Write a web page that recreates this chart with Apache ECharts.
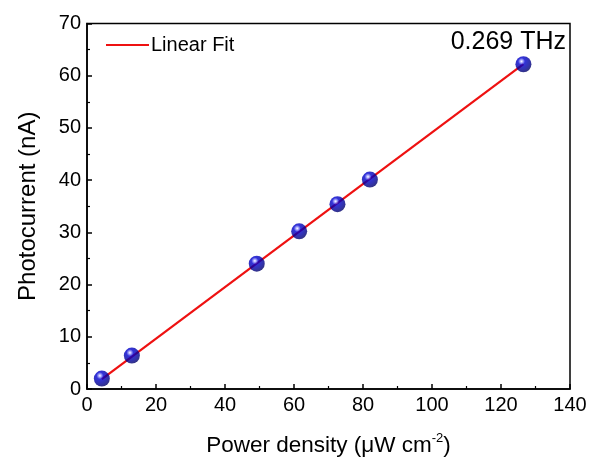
<!DOCTYPE html>
<html><head><meta charset="utf-8">
<script src="https://cdn.jsdelivr.net/npm/echarts@6/dist/echarts.min.js"></script>
<style>html,body{margin:0;padding:0;background:#fff}#c{width:590px;height:462px}</style>
</head><body><div id="c"></div>
<script>
const powerDensity = [4.3, 13.0, 49.2, 61.5, 72.6, 82.0, 126.5];
const photocurrent = [2.0, 6.4, 24.0, 30.2, 35.4, 40.1, 62.2];
const fitX = [4.3, 126.5];
const fitY = [1.9, 62.2];
const xTicks = [0, 20, 40, 60, 80, 100, 120, 140];
const yTicks = [0, 10, 20, 30, 40, 50, 60, 70];

const font = 'Liberation Sans, Arial, sans-serif';
const chart = echarts.init(document.getElementById('c'));
const ball = {
  type: 'radial', x: 0.38, y: 0.32, r: 0.72,
  colorStops: [
    {offset: 0, color: '#ffffff'},
    {offset: 0.1, color: '#a8a8ff'},
    {offset: 0.3, color: '#0000d0'},
    {offset: 0.7, color: '#00009a'},
    {offset: 1, color: '#000060'}
  ]
};
chart.setOption({
  animation: false,
  backgroundColor: '#fff',
  grid: {left: 87, right: 20, top: 23.5, bottom: 72, show: true, borderColor: '#000', borderWidth: 1.5},
  legend: {
    data: ['Linear Fit'], left: 101, top: 30, icon: 'rect', itemWidth: 43, itemHeight: 2,
    itemGap: 4, textStyle: {fontFamily: font, fontSize: 20, color: '#000', padding: [0,0,0,-3]}
  },
  graphic: [{
    type: 'text', right: 24, top: 30,
    style: {text: '0.269 THz', fontFamily: font, fontSize: 25, fill: '#000'}
  }],
  xAxis: {
    type: 'value', min: xTicks[0], max: xTicks[xTicks.length-1], interval: 20,
    name: '{a|Power density (μW cm}{s|-2}{a|)}', nameLocation: 'middle', nameGap: 43,
    nameTextStyle: {rich: {
      a: {fontFamily: font, fontSize: 22.5, color: '#000'},
      s: {fontFamily: font, fontSize: 13, color: '#000', verticalAlign: 'top', padding: [0,0,14,0]}
    }},
    axisLine: {lineStyle: {color: '#000', width: 1.5}},
    axisTick: {inside: true, length: 5, lineStyle: {color: '#000', width: 1.5}},
    minorTick: {show: true, splitNumber: 2, length: 3, lineStyle: {color: '#000', width: 1.2}},
    splitLine: {show: false},
    axisLabel: {fontFamily: font, fontSize: 20, color: '#000', margin: 6}
  },
  yAxis: {
    type: 'value', min: yTicks[0], max: yTicks[yTicks.length-1], interval: 10,
    name: 'Photocurrent (nA)', nameLocation: 'middle', nameGap: 47,
    nameTextStyle: {fontFamily: font, fontSize: 24, color: '#000'},
    axisLine: {lineStyle: {color: '#000', width: 1.5}},
    axisTick: {inside: true, length: 5, lineStyle: {color: '#000', width: 1.5}},
    minorTick: {show: true, splitNumber: 2, length: 3, lineStyle: {color: '#000', width: 1.2}},
    splitLine: {show: false},
    axisLabel: {fontFamily: font, fontSize: 20, color: '#000', margin: 6}
  },
  series: [
    {
      name: 'Linear Fit', type: 'line', data: fitX.map((x, i) => [x, fitY[i]]),
      symbol: 'none', lineStyle: {color: '#ee1111', width: 2.2}, itemStyle: {color: '#ee1111'}, z: 2
    },
    {
      name: 'data', type: 'scatter', data: powerDensity.map((x, i) => [x, photocurrent[i]]),
      symbol: 'circle', symbolSize: 16, itemStyle: {color: ball}, z: 3
    }
  ]
});
</script></body></html>
